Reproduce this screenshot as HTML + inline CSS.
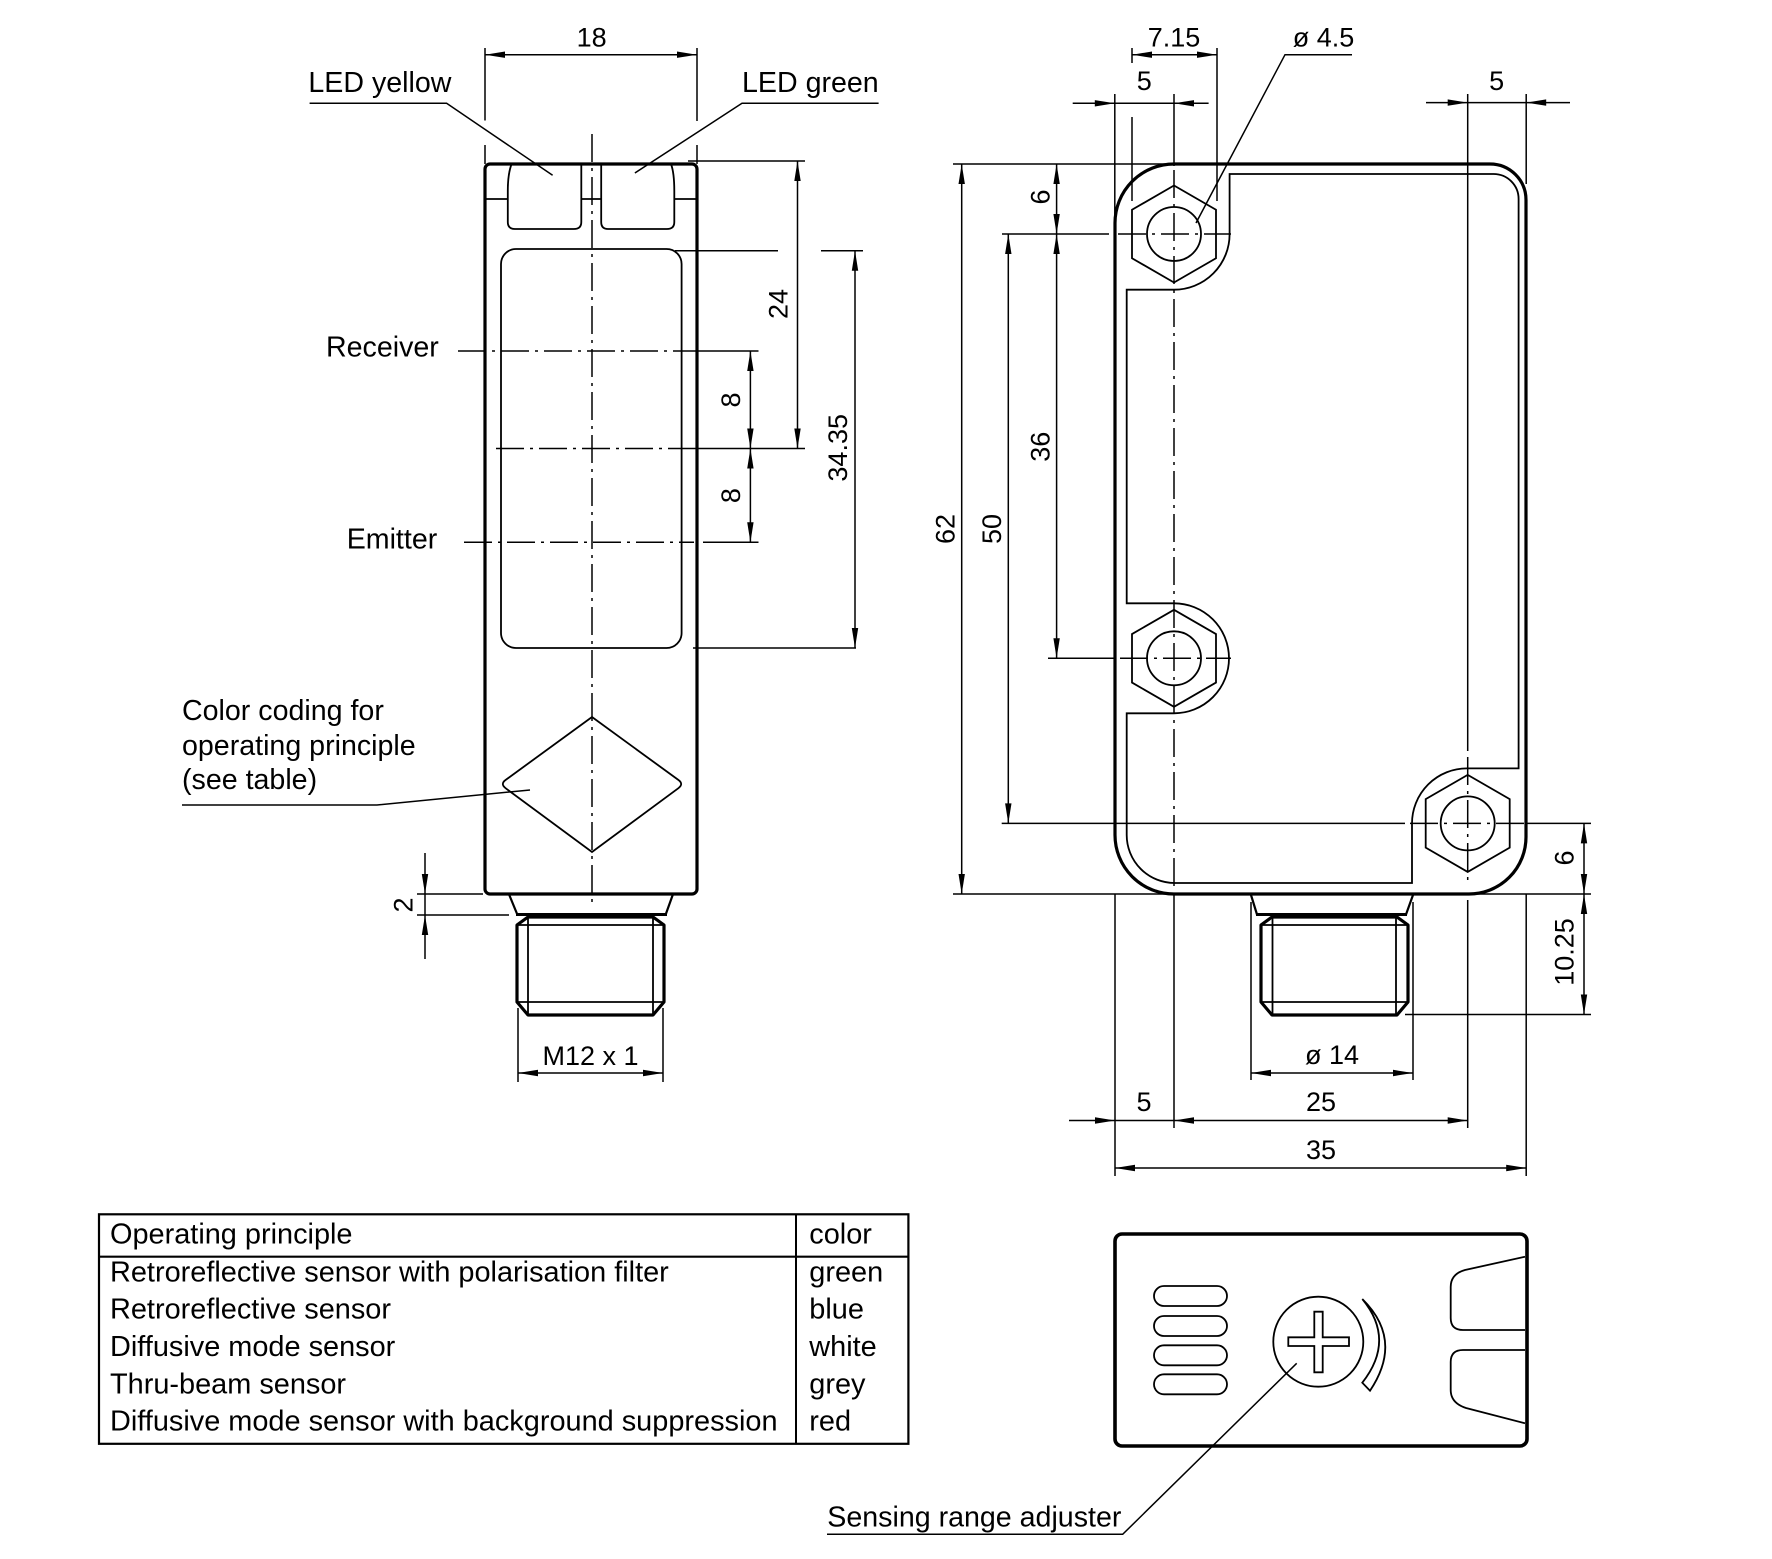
<!DOCTYPE html>
<html>
<head>
<meta charset="utf-8">
<style>
html,body{margin:0;padding:0;background:#fff;}
svg{display:block;}
text{font-family:"Liberation Sans",Arial,sans-serif;fill:#000;}
.d{font-size:27px;}
.l{font-size:28.6px;}
.t{font-size:28.9px;}
.hv{fill:none;stroke:#000;stroke-width:3.2;stroke-linejoin:round;}
.th{fill:none;stroke:#000;stroke-width:1.8;}
.dm{fill:none;stroke:#000;stroke-width:1.5;}
.cl{fill:none;stroke:#000;stroke-width:1.5;stroke-dasharray:28 6 3 6;}
.ar{fill:#000;stroke:none;}
</style>
</head>
<body>
<svg width="1772" height="1559" viewBox="0 0 1772 1559" xmlns="http://www.w3.org/2000/svg">
<rect width="1772" height="1559" fill="#fff"/>

<!-- ================= LEFT VIEW ================= -->
<rect class="hv" x="485" y="164" width="212" height="730" rx="5"/>
<path class="th" d="M511.6,164 C508.5,172 507.8,182 507.8,191 L507.8,222 Q507.8,229 515,229 L574,229 Q581.3,229 581.3,222 L581.3,164"/>
<path class="th" d="M671,164 C674,172 674.3,182 674.3,191 L674.3,222 Q674.3,229 667,229 L608,229 Q601.2,229 601.2,222 L601.2,164"/>
<line class="th" x1="485" y1="199" x2="507.8" y2="199"/>
<line class="th" x1="581.3" y1="199" x2="601.2" y2="199"/>
<line class="th" x1="674.3" y1="199" x2="697" y2="199"/>
<rect class="th" x="501" y="249" width="180.6" height="399" rx="15"/>
<path class="th" d="M592,717 L678.3,779.9 Q684,784 678.4,788.2 L592,852 L505.6,788.2 Q500,784 505.7,779.9 Z"/>
<line class="cl" x1="592" y1="134" x2="592" y2="905"/>
<path d="M509.3,895 L517.3,914.5 M672.7,895 L665.7,914.5" stroke="#000" stroke-width="2.2" fill="none"/>
<line x1="516" y1="914.5" x2="667" y2="914.5" stroke="#000" stroke-width="3"/>
<polygon class="hv" points="528,917 653,917 664,925 664,1002 653,1015 528,1015 517,1002 517,925"/>
<line class="th" x1="528" y1="917" x2="528" y2="1015"/>
<line class="th" x1="653" y1="917" x2="653" y2="1015"/>
<line class="th" x1="517" y1="925" x2="664" y2="925"/>
<line class="th" x1="517" y1="1002" x2="664" y2="1002"/>

<line class="dm" x1="485" y1="48" x2="485" y2="120.5"/>
<line class="dm" x1="485" y1="145" x2="485" y2="164"/>
<line class="dm" x1="697" y1="48" x2="697" y2="121"/>
<line class="dm" x1="697" y1="145" x2="697" y2="164"/>
<line class="dm" x1="485" y1="54.7" x2="697" y2="54.7"/>
<polygon class="ar" points="485,54.7 505,51.5 505,57.9"/>
<polygon class="ar" points="697,54.7 677,51.5 677,57.9"/>
<text class="d" x="591.6" y="46.7" text-anchor="middle">18</text>

<text class="l" x="308.4" y="91.8">LED yellow</text>
<polyline class="dm" points="309.6,103.3 446.6,103.3 552.6,175.3"/>
<text class="l" x="742" y="92">LED green</text>
<polyline class="dm" points="878.6,103.3 742,103.3 634.9,173"/>

<line class="dm" x1="688" y1="161" x2="805" y2="161"/>
<line class="dm" x1="797.5" y1="161" x2="797.5" y2="448.5"/>
<polygon class="ar" points="797.5,161 794.3,181 800.7,181"/>
<polygon class="ar" points="797.5,448.5 794.3,428.5 800.7,428.5"/>
<text class="d" transform="translate(778,304) rotate(-90)" y="9.5" text-anchor="middle">24</text>

<line class="cl" x1="458" y1="351" x2="697" y2="351"/>
<line class="dm" x1="697" y1="351" x2="758.5" y2="351"/>
<line class="cl" x1="496" y1="448.5" x2="697" y2="448.5"/>
<line class="dm" x1="697" y1="448.5" x2="805" y2="448.5"/>
<line class="cl" x1="464" y1="542.3" x2="694" y2="542.3"/>
<line class="dm" x1="703" y1="542.3" x2="758.5" y2="542.3"/>
<text class="l" x="326" y="356.7">Receiver</text>
<text class="l" x="346.7" y="548.4">Emitter</text>

<line class="dm" x1="750.4" y1="351" x2="750.4" y2="542.3"/>
<polygon class="ar" points="750.4,351 747.2,371 753.6,371"/>
<polygon class="ar" points="750.4,448.5 747.2,428.5 753.6,428.5"/>
<polygon class="ar" points="750.4,448.5 747.2,468.5 753.6,468.5"/>
<polygon class="ar" points="750.4,542.3 747.2,522.3 753.6,522.3"/>
<text class="d" transform="translate(730.5,400) rotate(-90)" y="9.5" text-anchor="middle">8</text>
<text class="d" transform="translate(730.5,495.6) rotate(-90)" y="9.5" text-anchor="middle">8</text>

<line class="dm" x1="675" y1="250.7" x2="778" y2="250.7"/>
<line class="dm" x1="821" y1="250.7" x2="863" y2="250.7"/>
<line class="dm" x1="693" y1="648" x2="856" y2="648"/>
<line class="dm" x1="855" y1="250.7" x2="855" y2="648"/>
<polygon class="ar" points="855,250.7 851.8,270.7 858.2,270.7"/>
<polygon class="ar" points="855,648 851.8,628 858.2,628"/>
<text class="d" transform="translate(837.7,447.8) rotate(-90)" y="9.5" text-anchor="middle">34.35</text>

<text class="l" x="182" y="720">Color coding for</text>
<text class="l" x="182" y="755">operating principle</text>
<text class="l" x="182" y="789">(see table)</text>
<polyline class="dm" points="182,805 377,805 530,790"/>

<line class="dm" x1="417" y1="894" x2="483" y2="894"/>
<line class="dm" x1="417" y1="915" x2="509" y2="915"/>
<line class="dm" x1="425" y1="853" x2="425" y2="959"/>
<polygon class="ar" points="425,894 421.8,874 428.2,874"/>
<polygon class="ar" points="425,915 421.8,935 428.2,935"/>
<text class="d" transform="translate(403,905) rotate(-90)" y="9.5" text-anchor="middle">2</text>

<line class="dm" x1="518" y1="1008" x2="518" y2="1082"/>
<line class="dm" x1="663" y1="1008" x2="663" y2="1082"/>
<line class="dm" x1="518" y1="1073" x2="663" y2="1073"/>
<polygon class="ar" points="518,1073 538,1069.8 538,1076.2"/>
<polygon class="ar" points="663,1073 643,1069.8 643,1076.2"/>
<text class="d" x="590.5" y="1065" text-anchor="middle">M12 x 1</text>

<!-- ================= RIGHT VIEW ================= -->
<line class="dm" x1="953" y1="164" x2="1174" y2="164"/>
<line class="dm" x1="953" y1="894" x2="1591" y2="894"/>
<line class="dm" x1="1002" y1="234" x2="1109" y2="234"/>
<line class="cl" x1="1118" y1="234" x2="1231" y2="234"/>
<line class="dm" x1="1048" y1="658.3" x2="1115" y2="658.3"/>
<line class="cl" x1="1120" y1="658.3" x2="1231" y2="658.3"/>
<line class="dm" x1="1001.7" y1="823.4" x2="1405" y2="823.4"/>
<line class="cl" x1="1410" y1="823.4" x2="1527" y2="823.4"/>
<line class="dm" x1="1527" y1="823.4" x2="1591" y2="823.4"/>
<line class="dm" x1="1405" y1="1014.5" x2="1591" y2="1014.5"/>

<line class="dm" x1="1114.8" y1="94" x2="1114.8" y2="222"/>
<line class="dm" x1="1174" y1="94" x2="1174" y2="166"/>
<line class="cl" x1="1174" y1="170" x2="1174" y2="890"/>
<line class="dm" x1="1174" y1="894" x2="1174" y2="1128"/>
<line class="dm" x1="1467.7" y1="94" x2="1467.7" y2="751"/>
<line class="cl" x1="1467.7" y1="757" x2="1467.7" y2="885"/>
<line class="dm" x1="1467.7" y1="900" x2="1467.7" y2="1128"/>
<line class="dm" x1="1526.2" y1="94" x2="1526.2" y2="184"/>
<line class="dm" x1="1115" y1="894" x2="1115" y2="1176"/>
<line class="dm" x1="1526.2" y1="894" x2="1526.2" y2="1176"/>
<line class="dm" x1="1132" y1="48" x2="1132" y2="63"/>
<line class="dm" x1="1132" y1="117" x2="1132" y2="201"/>
<line class="dm" x1="1217" y1="48" x2="1217" y2="201"/>

<path class="hv" d="M1174,164 H1490 A36,36 0 0 1 1526,200 V837 A57,57 0 0 1 1469,894 H1174 A59,59 0 0 1 1115,835 V223 A59,59 0 0 1 1174,164 Z"/>
<path class="th" d="M1229.6,174 H1493.6 A25,25 0 0 1 1518.6,199 V768.4 H1467 A55,55 0 0 0 1412,823.4 V883 H1174.7 A48,48 0 0 1 1126.7,835 V713.3 H1174 A55,55 0 0 0 1229,658.3 A55,55 0 0 0 1174,603.3 H1126.7 V289.7 H1174 A55.6,55.6 0 0 0 1229.6,234 Z"/>
<polygon class="th" points="1174,185.5 1216,209.75 1216,258.25 1174,282.5 1132,258.25 1132,209.75"/>
<circle class="th" cx="1174" cy="234" r="27"/>
<polygon class="th" points="1174,609.8 1216,634.05 1216,682.55 1174,706.8 1132,682.55 1132,634.05"/>
<circle class="th" cx="1174" cy="658.3" r="27"/>
<polygon class="th" points="1467.7,774.9 1509.7,799.15 1509.7,847.65 1467.7,871.9 1425.7,847.65 1425.7,799.15"/>
<circle class="th" cx="1467.7" cy="823.4" r="27"/>

<path d="M1251,895 L1257,914.5 M1413,895 L1406,914.5" stroke="#000" stroke-width="2.2" fill="none"/>
<line x1="1256" y1="914.5" x2="1407" y2="914.5" stroke="#000" stroke-width="3"/>
<polygon class="hv" points="1272,917 1397,917 1408,925 1408,1002 1397,1015 1272,1015 1261,1002 1261,925"/>
<line class="th" x1="1272.5" y1="917" x2="1272.5" y2="1015"/>
<line class="th" x1="1396" y1="917" x2="1396" y2="1015"/>
<line class="th" x1="1261" y1="925" x2="1408" y2="925"/>
<line class="th" x1="1261" y1="1002" x2="1408" y2="1002"/>

<line class="dm" x1="1132" y1="54.7" x2="1217" y2="54.7"/>
<polygon class="ar" points="1132,54.7 1152,51.5 1152,57.9"/>
<polygon class="ar" points="1217,54.7 1197,51.5 1197,57.9"/>
<text class="d" x="1174" y="46.7" text-anchor="middle">7.15</text>
<line class="dm" x1="1072.7" y1="103.3" x2="1208.6" y2="103.3"/>
<polygon class="ar" points="1114.8,103.3 1094.8,100.1 1094.8,106.5"/>
<polygon class="ar" points="1174,103.3 1194,100.1 1194,106.5"/>
<text class="d" x="1144.3" y="90" text-anchor="middle">5</text>
<text class="d" x="1292.8" y="46.7">ø 4.5</text>
<polyline class="dm" points="1352,54.7 1285,54.7 1196,223"/>
<line class="dm" x1="1426" y1="102.6" x2="1570" y2="102.6"/>
<polygon class="ar" points="1467.7,102.6 1447.7,99.4 1447.7,105.8"/>
<polygon class="ar" points="1526.2,102.6 1546.2,99.4 1546.2,105.8"/>
<text class="d" x="1496.7" y="90" text-anchor="middle">5</text>

<line class="dm" x1="961.7" y1="164" x2="961.7" y2="894"/>
<polygon class="ar" points="961.7,164 958.5,184 964.9,184"/>
<polygon class="ar" points="961.7,894 958.5,874 964.9,874"/>
<text class="d" transform="translate(945,529) rotate(-90)" y="9.5" text-anchor="middle">62</text>
<line class="dm" x1="1008.3" y1="234" x2="1008.3" y2="823.4"/>
<polygon class="ar" points="1008.3,234 1005.1,254 1011.5,254"/>
<polygon class="ar" points="1008.3,823.4 1005.1,803.4 1011.5,803.4"/>
<text class="d" transform="translate(991.7,529) rotate(-90)" y="9.5" text-anchor="middle">50</text>
<line class="dm" x1="1056.6" y1="164" x2="1056.6" y2="658.3"/>
<polygon class="ar" points="1056.6,164 1053.4,184 1059.8,184"/>
<polygon class="ar" points="1056.6,234 1053.4,214 1059.8,214"/>
<polygon class="ar" points="1056.6,234 1053.4,254 1059.8,254"/>
<polygon class="ar" points="1056.6,658.3 1053.4,638.3 1059.8,638.3"/>
<text class="d" transform="translate(1040,197) rotate(-90)" y="9.5" text-anchor="middle">6</text>
<text class="d" transform="translate(1040,446.7) rotate(-90)" y="9.5" text-anchor="middle">36</text>
<line class="dm" x1="1584" y1="823.4" x2="1584" y2="1014.5"/>
<polygon class="ar" points="1584,823.4 1580.8,843.4 1587.2,843.4"/>
<polygon class="ar" points="1584,894 1580.8,874 1587.2,874"/>
<polygon class="ar" points="1584,894 1580.8,914 1587.2,914"/>
<polygon class="ar" points="1584,1014.5 1580.8,994.5 1587.2,994.5"/>
<text class="d" transform="translate(1564,858) rotate(-90)" y="9.5" text-anchor="middle">6</text>
<text class="d" transform="translate(1564,952) rotate(-90)" y="9.5" text-anchor="middle">10.25</text>
<line class="dm" x1="1251" y1="902" x2="1251" y2="1080"/>
<line class="dm" x1="1413" y1="902" x2="1413" y2="1080"/>
<line class="dm" x1="1251" y1="1073" x2="1413" y2="1073"/>
<polygon class="ar" points="1251,1073 1271,1069.8 1271,1076.2"/>
<polygon class="ar" points="1413,1073 1393,1069.8 1393,1076.2"/>
<text class="d" x="1332" y="1064" text-anchor="middle">ø 14</text>
<line class="dm" x1="1069" y1="1120.5" x2="1467.7" y2="1120.5"/>
<polygon class="ar" points="1115,1120.5 1095,1117.3 1095,1123.7"/>
<polygon class="ar" points="1174,1120.5 1194,1117.3 1194,1123.7"/>
<polygon class="ar" points="1467.7,1120.5 1447.7,1117.3 1447.7,1123.7"/>
<text class="d" x="1144" y="1111" text-anchor="middle">5</text>
<text class="d" x="1321" y="1111" text-anchor="middle">25</text>
<line class="dm" x1="1115" y1="1168" x2="1526.2" y2="1168"/>
<polygon class="ar" points="1115,1168 1135,1164.8 1135,1171.2"/>
<polygon class="ar" points="1526.2,1168 1506.2,1164.8 1506.2,1171.2"/>
<text class="d" x="1321" y="1159" text-anchor="middle">35</text>

<!-- ================= TABLE ================= -->
<rect x="99" y="1214.3" width="809.4" height="229.5" fill="none" stroke="#000" stroke-width="2.2"/>
<line x1="796" y1="1214.3" x2="796" y2="1443.8" stroke="#000" stroke-width="2"/>
<line x1="99" y1="1256.7" x2="908.4" y2="1256.7" stroke="#000" stroke-width="2.2"/>
<text class="t" x="110" y="1243.3">Operating principle</text>
<text class="t" x="809.3" y="1243.3">color</text>
<text class="t" x="110" y="1281.7">Retroreflective sensor with polarisation filter</text>
<text class="t" x="809.3" y="1281.7">green</text>
<text class="t" x="110" y="1318.3">Retroreflective sensor</text>
<text class="t" x="809.3" y="1318.3">blue</text>
<text class="t" x="110" y="1356">Diffusive mode sensor</text>
<text class="t" x="809.3" y="1356">white</text>
<text class="t" x="110" y="1393.3">Thru-beam sensor</text>
<text class="t" x="809.3" y="1393.3">grey</text>
<text class="t" x="110" y="1430.7">Diffusive mode sensor with background suppression</text>
<text class="t" x="809.3" y="1430.7">red</text>

<!-- ================= BOTTOM VIEW ================= -->
<rect x="1115" y="1234" width="412" height="212" rx="7" fill="none" stroke="#000" stroke-width="3.6"/>
<rect class="th" x="1154" y="1286" width="73" height="20" rx="10"/>
<rect class="th" x="1154" y="1316" width="73" height="20" rx="10"/>
<rect class="th" x="1154" y="1345.3" width="73" height="20" rx="10"/>
<rect class="th" x="1154" y="1374.3" width="73" height="20" rx="10"/>
<circle class="th" cx="1318.3" cy="1341.7" r="45"/>
<polygon class="th" points="1314.3,1311.7 1322.7,1311.7 1322.7,1337.3 1349,1337.3 1349,1346 1322.7,1346 1322.7,1372.3 1314.3,1372.3 1314.3,1346 1288.3,1346 1288.3,1337.3 1314.3,1337.3"/>
<path class="th" d="M1362.3,1299 Q1404,1340 1370,1390.7 L1362.3,1382.7 Q1396,1340 1362.3,1299 Z"/>
<path class="th" d="M1525,1256.7 L1465,1270 Q1450.7,1274 1450.7,1287 V1318 Q1450.7,1330 1463,1330 H1525"/>
<path class="th" d="M1525,1350 H1463 Q1450.7,1350 1450.7,1362 V1390 Q1450.7,1403 1466,1408 L1525,1423.3"/>
<polyline class="dm" points="1296.7,1363.3 1122.7,1534.3 827,1534.3"/>
<text class="l" x="827.3" y="1526.7">Sensing range adjuster</text>
</svg>
</body>
</html>
